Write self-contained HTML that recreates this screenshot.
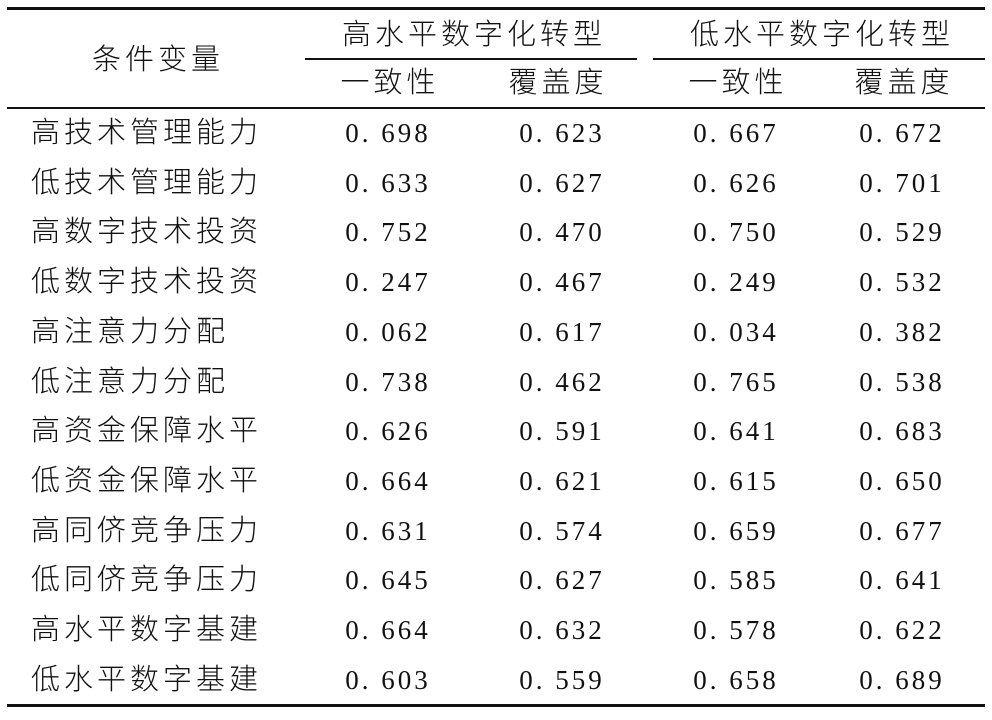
<!DOCTYPE html>
<html><head><meta charset="utf-8"><style>
body{margin:0;width:992px;height:720px;background:#fff;position:relative;overflow:hidden;font-family:"Liberation Serif","Noto Serif CJK SC",serif;color:#111}
.l{position:absolute;background:#111}
.t{position:absolute;font-size:29px;line-height:30px;white-space:nowrap;transform:translateY(-50%)}
.c{font-family:"Liberation Sans","Noto Sans CJK SC",sans-serif;font-weight:300;letter-spacing:4px}
.n{font-size:27px;letter-spacing:3px;transform:translate(-50%,-50%)}
.h{transform:translate(-50%,-50%)}
</style></head><body>
<div class="l" style="left:7px;top:7px;width:978px;height:3px"></div>
<div class="l" style="left:305px;top:58px;width:332px;height:2px"></div>
<div class="l" style="left:653px;top:58px;width:332px;height:2px"></div>
<div class="l" style="left:7px;top:107px;width:978px;height:2px"></div>
<div class="l" style="left:7px;top:704px;width:978px;height:3px"></div>
<div class="t c h" style="left:158px;top:60px">条件变量</div>
<div class="t c h" style="left:474px;top:35px">高水平数字化转型</div>
<div class="t c h" style="left:822px;top:35px">低水平数字化转型</div>
<div class="t c h" style="left:390px;top:83px">一致性</div>
<div class="t c h" style="left:558px;top:83px">覆盖度</div>
<div class="t c h" style="left:738px;top:83px">一致性</div>
<div class="t c h" style="left:904px;top:83px">覆盖度</div>
<div id="rows"></div>
<script>
var d=[["高技术管理能力","0.698","0.623","0.667","0.672"],["低技术管理能力","0.633","0.627","0.626","0.701"],["高数字技术投资","0.752","0.470","0.750","0.529"],["低数字技术投资","0.247","0.467","0.249","0.532"],["高注意力分配","0.062","0.617","0.034","0.382"],["低注意力分配","0.738","0.462","0.765","0.538"],["高资金保障水平","0.626","0.591","0.641","0.683"],["低资金保障水平","0.664","0.621","0.615","0.650"],["高同侪竞争压力","0.631","0.574","0.659","0.677"],["低同侪竞争压力","0.645","0.627","0.585","0.641"],["高水平数字基建","0.664","0.632","0.578","0.622"],["低水平数字基建","0.603","0.559","0.658","0.689"]];
var xs=[388,562,736,902],h="";
d.forEach(function(r,i){var y=133+i*49.7;
h+='<div class="t c" style="left:31px;top:'+y+'px">'+r[0]+'</div>';
for(var j=1;j<5;j++)h+='<div class="t n" style="left:'+xs[j-1]+'px;top:'+y+'px">'+r[j].replace(".",". ")+'</div>';});
document.getElementById("rows").innerHTML=h;
</script>
</body></html>
